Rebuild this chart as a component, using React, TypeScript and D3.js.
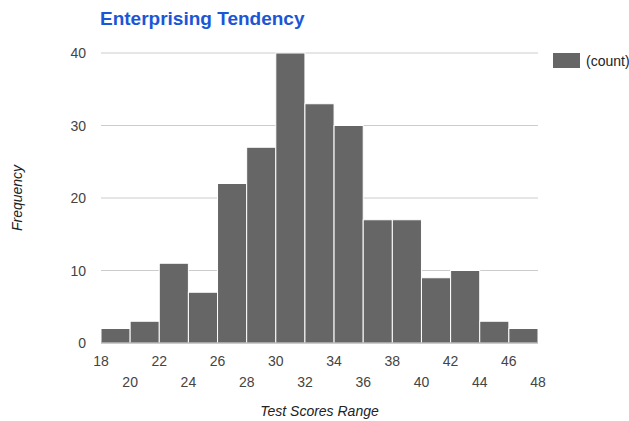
import React from "react";
import * as d3 from "d3";

const binStarts = [18, 20, 22, 24, 26, 28, 30, 32, 34, 36, 38, 40, 42, 44, 46];
const counts = [2, 3, 11, 7, 22, 27, 40, 33, 30, 17, 17, 9, 10, 3, 2];
const binWidth = 2;
const xTicks = [18, 20, 22, 24, 26, 28, 30, 32, 34, 36, 38, 40, 42, 44, 46, 48];
const yTicks = [0, 10, 20, 30, 40];
const title = "Enterprising Tendency";
const xTitle = "Test Scores Range";
const yTitle = "Frequency";
const seriesName = "(count)";

export default function App() {
  const W = 629, H = 421;
  const left = 101, right = 538, top = 53, bottom = 343;
  const x = d3.scaleLinear().domain([18, 48]).range([left, right]);
  const y = d3.scaleLinear().domain([0, 40]).range([bottom, top]);
  const font = "Arial, 'Liberation Sans', sans-serif";
  return (
    <svg width={W} height={H} style={{ position: "absolute", left: 0, top: 0, background: "#fff" }} fontFamily={font}>
      <text x={100} y={25} fill="#1a56d6" fontSize={19} fontWeight="bold">{title}</text>
      {yTicks.map((t) => (
        <g key={t}>
          {t > 0 && <line x1={left} x2={right} y1={y(t)} y2={y(t)} stroke="#cccccc" strokeWidth={1} />}
          <text x={86} y={y(t) + 5} textAnchor="end" fontSize={14} fill="#444">{t}</text>
        </g>
      ))}
      {binStarts.map((s, i) => (
        <rect key={s} x={x(s)} y={y(counts[i])} width={x(s + binWidth) - x(s)} height={bottom - y(counts[i])}
          fill="#666666" stroke="#ffffff" strokeWidth={1} />
      ))}
      <line x1={left} x2={right} y1={bottom} y2={bottom} stroke="#999" strokeWidth={1} />
      {xTicks.map((t, i) => (
        <text key={t} x={x(t)} y={i % 2 === 0 ? 366 : 387} textAnchor="middle" fontSize={14} fill="#444">{t}</text>
      ))}
      <text x={(left + right) / 2} y={416} textAnchor="middle" fontSize={14} fontStyle="italic" fill="#222">{xTitle}</text>
      <text transform={`translate(22,${(top + bottom) / 2}) rotate(-90)`} textAnchor="middle" fontSize={14} fontStyle="italic" fill="#222">{yTitle}</text>
      <rect x={553} y={53} width={27} height={15} fill="#666666" />
      <text x={586} y={66} fontSize={14} fill="#222">{seriesName}</text>
    </svg>
  );
}
